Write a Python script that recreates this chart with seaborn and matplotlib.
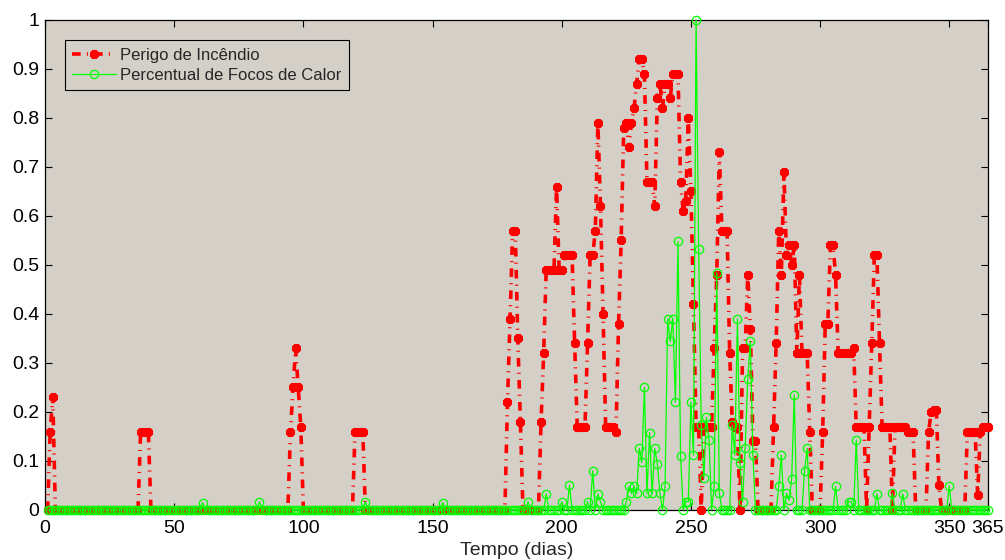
import numpy as np
import pandas as pd
import matplotlib
matplotlib.use("Agg")
import matplotlib.pyplot as plt
import seaborn as sns

# ---------------- data ----------------
days = list(range(1, 366))

fire_days = [2, 3,
             37, 38, 39, 40,
             95, 96, 97, 98, 99,
             120, 121, 122, 123,
             179, 180, 181, 182, 183, 184,
             192, 193, 194, 195, 196, 197, 198, 199, 200, 201, 202, 203, 204,
             205, 206, 207, 208, 209, 210, 211, 212, 213, 214, 215, 216, 217,
             218, 219, 220, 221, 222, 223, 224, 225, 226, 227, 228, 229, 230,
             231, 232, 233, 234, 235, 236, 237, 238, 239, 240, 241, 242, 243,
             244, 245, 246, 247, 248, 249, 250, 251, 252, 253, 255, 256, 257,
             258, 259, 260, 261, 262, 263, 264, 265, 266, 267, 268, 270, 271,
             272, 273, 274, 275,
             282, 283, 284, 285, 286, 287, 288, 289, 290, 291, 292, 293, 294,
             295, 296,
             301, 302, 303, 304, 305, 306, 307, 308, 309, 310, 311, 312, 313,
             314, 315, 316, 317, 319, 320, 321, 322, 323, 324, 325, 326, 327,
             329, 330, 331, 332, 333, 334, 335, 336,
             342, 343, 344, 345, 346,
             357, 358, 359, 360, 361, 362, 363, 364, 365]
fire_vals = [0.16, 0.23,
             0.16, 0.16, 0.16, 0.16,
             0.16, 0.25, 0.33, 0.25, 0.17,
             0.16, 0.16, 0.16, 0.16,
             0.22, 0.39, 0.57, 0.57, 0.35, 0.18,
             0.18, 0.32, 0.49, 0.49, 0.49, 0.49, 0.66, 0.49, 0.49, 0.52, 0.52, 0.52, 0.52,
             0.34, 0.17, 0.17, 0.17, 0.17, 0.34, 0.52, 0.52, 0.57, 0.79, 0.62, 0.40, 0.17,
             0.17, 0.17, 0.17, 0.16, 0.38, 0.55, 0.78, 0.79, 0.74, 0.79, 0.82, 0.87, 0.92,
             0.92, 0.89, 0.67, 0.67, 0.67, 0.62, 0.84, 0.87, 0.82, 0.87, 0.87, 0.84, 0.89,
             0.89, 0.89, 0.67, 0.61, 0.63, 0.80, 0.65, 0.42, 0.17, 0.17, 0.17, 0.17, 0.17,
             0.17, 0.33, 0.48, 0.73, 0.57, 0.57, 0.57, 0.32, 0.18, 0.17, 0.17, 0.33, 0.33,
             0.48, 0.37, 0.14, 0.14,
             0.17, 0.34, 0.57, 0.48, 0.69, 0.52, 0.54, 0.50, 0.54, 0.32, 0.48, 0.32, 0.32,
             0.32, 0.16,
             0.16, 0.38, 0.38, 0.54, 0.54, 0.48, 0.32, 0.32, 0.32, 0.32, 0.32, 0.32, 0.33,
             0.17, 0.17, 0.17, 0.17, 0.17, 0.34, 0.52, 0.52, 0.34, 0.17, 0.17, 0.17, 0.17,
             0.17, 0.17, 0.17, 0.17, 0.17, 0.16, 0.16, 0.16,
             0.16, 0.20, 0.205, 0.205, 0.05,
             0.16, 0.16, 0.16, 0.16, 0.03, 0.16, 0.17, 0.17, 0.17]

heat_days = [61, 83, 124, 154, 187, 194, 200, 203, 210, 212, 214, 215,
             225, 226, 227, 228, 229, 230, 231, 232, 233, 234, 235, 236, 237,
             238, 240, 241, 242, 243, 244, 245, 246, 248, 249, 250, 251, 252,
             253, 254, 255, 256, 257, 259, 260, 261, 266, 267, 268, 269, 270,
             271, 272, 273, 274, 284, 285, 287, 288, 289, 290, 294, 295, 306,
             311, 312, 314, 322, 328, 332, 350]
heat_vals = [0.015, 0.017, 0.017, 0.015, 0.017, 0.033, 0.017, 0.05, 0.017, 0.08, 0.033, 0.017,
             0.017, 0.048, 0.034, 0.048, 0.034, 0.126, 0.097, 0.25, 0.034, 0.158, 0.034, 0.126, 0.094,
             0.034, 0.048, 0.39, 0.344, 0.39, 0.22, 0.548, 0.11, 0.017, 0.017, 0.22, 0.112, 1.0,
             0.532, 0.173, 0.065, 0.189, 0.143, 0.048, 0.484, 0.034, 0.173, 0.112, 0.39, 0.095, 0.017,
             0.126, 0.267, 0.344, 0.112, 0.048, 0.112, 0.034, 0.02, 0.063, 0.235, 0.08, 0.126, 0.048,
             0.017, 0.017, 0.143, 0.033, 0.034, 0.033, 0.049]

x_ticks = [0, 50, 100, 150, 200, 250, 300, 350, 365]
y_ticks = [0, 0.1, 0.2, 0.3, 0.4, 0.5, 0.6, 0.7, 0.8, 0.9, 1]
y_tick_labels = ["0", "0.1", "0.2", "0.3", "0.4", "0.5", "0.6", "0.7", "0.8", "0.9", "1"]

label_fire = "Perigo de Incêndio"
label_heat = "Percentual de Focos de Calor"
x_label = "Tempo (dias)"

# build full daily tables
fire = pd.Series(0.0, index=days)
fire.loc[fire_days] = fire_vals
heat = pd.Series(0.0, index=days)
heat.loc[heat_days] = heat_vals
df = pd.DataFrame({"dia": days, "fire": fire.values, "heat": heat.values})

# ---------------- style ----------------
sns.set_theme(style="ticks")
plt.rcParams["font.family"] = ["Liberation Sans", "DejaVu Sans"]
plt.rcParams["axes.linewidth"] = 0.9

fig = plt.figure(figsize=(10.05, 5.6), dpi=100, facecolor="white")
ax = fig.add_axes([0.0448, 0.0893, 0.9383, 0.875])
ax.set_facecolor("#d4d0c8")

sns.lineplot(data=df, x="dia", y="fire", ax=ax, color="#ff0000",
             linewidth=2.6, linestyle=(0, (2.4, 1.7, 0.3, 1.7)),
             marker=(8, 2, 0), markersize=6.5, markeredgewidth=2.4,
             markeredgecolor="#ff0000", label=label_fire, zorder=2,
             clip_on=False)
sns.lineplot(data=df, x="dia", y="heat", ax=ax, color="#00ff00",
             linewidth=0.9, marker="o", markersize=6,
             markerfacecolor="none", markeredgecolor="#00ff00",
             markeredgewidth=0.9, label=label_heat, zorder=3,
             clip_on=False)

ax.set_xlim(0, 365)
ax.set_ylim(0, 1)
ax.set_xticks(x_ticks)
ax.set_xticklabels([str(t) for t in x_ticks])
ax.set_yticks(y_ticks)
ax.set_yticklabels(y_tick_labels)
ax.tick_params(direction="in", top=True, right=True, length=5, width=0.8,
               labelsize=14, colors="black")
ax.tick_params(axis="x", pad=7)
ax.tick_params(axis="y", pad=4)
ax.set_xlabel(x_label, fontsize=14, labelpad=4)
ax.set_ylabel("")
for s in ax.spines.values():
    s.set_visible(True)
    s.set_color("black")
    s.set_zorder(1)

leg = ax.legend(loc="upper left", bbox_to_anchor=(0.021, 0.959), borderaxespad=0,
                fontsize=12, frameon=True, fancybox=False, framealpha=1,
                facecolor="#d4d0c8", edgecolor="black", handlelength=2.6,
                handletextpad=0.25, borderpad=0.45, labelspacing=0.3)
leg.get_frame().set_linewidth(0.8)
leg.set_zorder(5)

fig.savefig("out.png", dpi=100, facecolor="white")
